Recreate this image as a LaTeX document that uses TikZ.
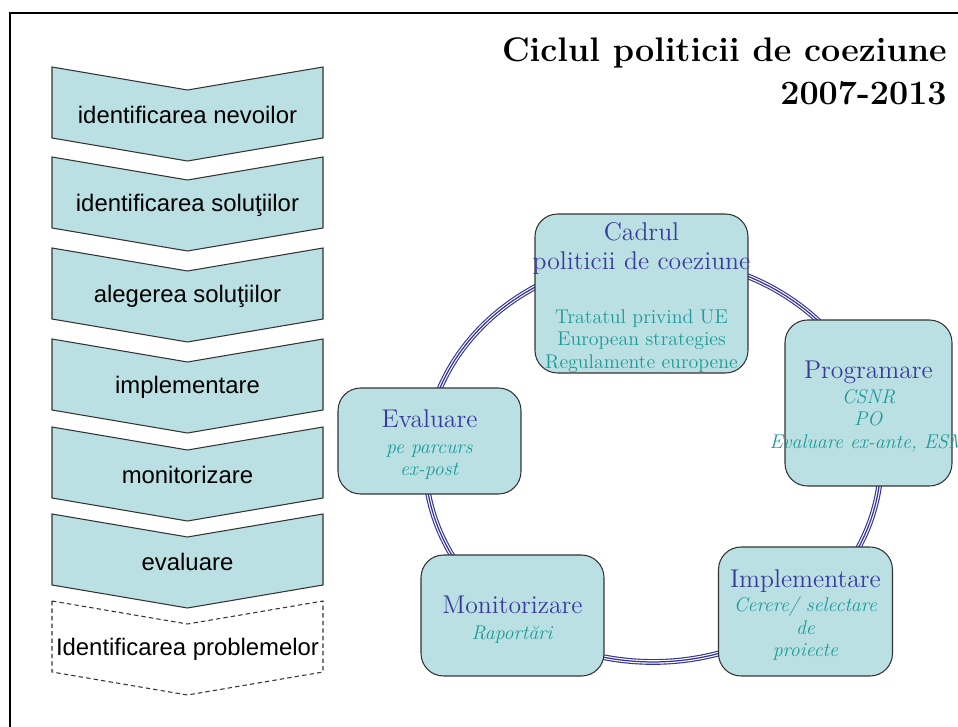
\documentclass[tikz,border=0pt]{standalone}
\usepackage{fontspec}
\newfontfamily\arialfont{Liberation Sans}
\usetikzlibrary{positioning}
\definecolor{boxfill}{HTML}{BAE0E3}
\definecolor{headblue}{HTML}{3A3A9E}
\definecolor{tealtxt}{HTML}{1E9A9A}
\definecolor{ringblue}{HTML}{33339A}
\definecolor{edgegrey}{HTML}{333333}
\newcommand{\boxhead}[1]{{\color{headblue}\fontsize{14.6}{17}\selectfont #1}}

\begin{document}
\begin{tikzpicture}[x=0.02cm,y=-0.02cm,chev/.style={draw=edgegrey,fill=boxfill,line width=0.6pt},chevtxt/.style={font=\arialfont\fontsize{13.6}{16}\selectfont,text=black},cbox/.style={rectangle,rounded corners=0.45cm,draw=edgegrey,fill=boxfill,line width=0.6pt,inner sep=0pt},ctxt/.style={align=center,text=tealtxt,font=\fontsize{11.3}{12.8}\selectfont,inner sep=0pt,yshift=-0.075cm}]
  \useasboundingbox (0,0) rectangle (958,727);
  \draw[line width=1.4pt] (10,740) -- (10,13) -- (970,13);
  \node[anchor=north east,align=right,inner sep=0pt,font=\bfseries\fontsize{19.4}{24.5}\selectfont] (title) at (947,37) {Ciclul politicii de coeziune\\2007-2013};
  \foreach \y/\t [count=\i] in {67/identificarea nevoilor,157/identificarea soluţiilor,248/alegerea soluţiilor,339/implementare,427/monitorizare,514/evaluare}{
    \draw[chev] (52,\y) -- (187.5,\y+23) -- (323,\y) -- (323,\y+71) -- (187.5,\y+94) -- (52,\y+71) -- cycle;
    \node[chevtxt] (stage\i) at (187.5,\y+48) {\t};
  }
  \draw[chev,fill=none,dash pattern=on 2.5pt off 1.8pt] (52,601) -- (187.5,624) -- (323,601) -- (323,672) -- (187.5,695) -- (52,672) -- cycle;
  \node[chevtxt] (stage7) at (187.5,649) {Identificarea problemelor};
  \foreach \w/\c in {3.3pt/ringblue,2pt/white,0.7pt/ringblue}{\draw[\c,line width=\w] (653,460) ellipse [x radius=4.56cm,y radius=4.04cm];}
  \node[cbox,minimum width=4.26cm,minimum height=3.18cm] (cadru) at (641.5,293.5) {};
  \node[cbox,minimum width=3.34cm,minimum height=3.32cm] (progr) at (868.5,403) {};
  \node[cbox,minimum width=3.48cm,minimum height=2.58cm] (implem) at (805.5,611.5) {};
  \node[cbox,minimum width=3.66cm,minimum height=2.42cm] (monit) at (512.5,615.5) {};
  \node[cbox,minimum width=3.66cm,minimum height=2.12cm] (evalu) at (429.5,441) {};
  \node[ctxt] (cadrut) at (cadru) {\boxhead{Cadrul}\\[3.5pt]\boxhead{politicii de coeziune}\\[18pt]Tratatul privind UE\\European strategies\\Regulamente europene};
  \node[ctxt] (progrt) at (progr) {\boxhead{Programare}\\[1pt]\textit{CSNR}\\\textit{PO}\\\textit{Evaluare ex-ante, ESM}};
  \node[ctxt] (implemt) at (implem) {\boxhead{Implementare}\\[1pt]\textit{Cerere/ selectare}\\\textit{de}\\\textit{proiecte}};
  \node[ctxt] (monitt) at (monit) {\boxhead{Monitorizare}\\[2pt]\textit{Raportări}};
  \node[ctxt] (evalut) at (evalu) {\boxhead{Evaluare}\\[2pt]\textit{pe parcurs}\\\textit{ex-post}};
\end{tikzpicture}
\end{document}
